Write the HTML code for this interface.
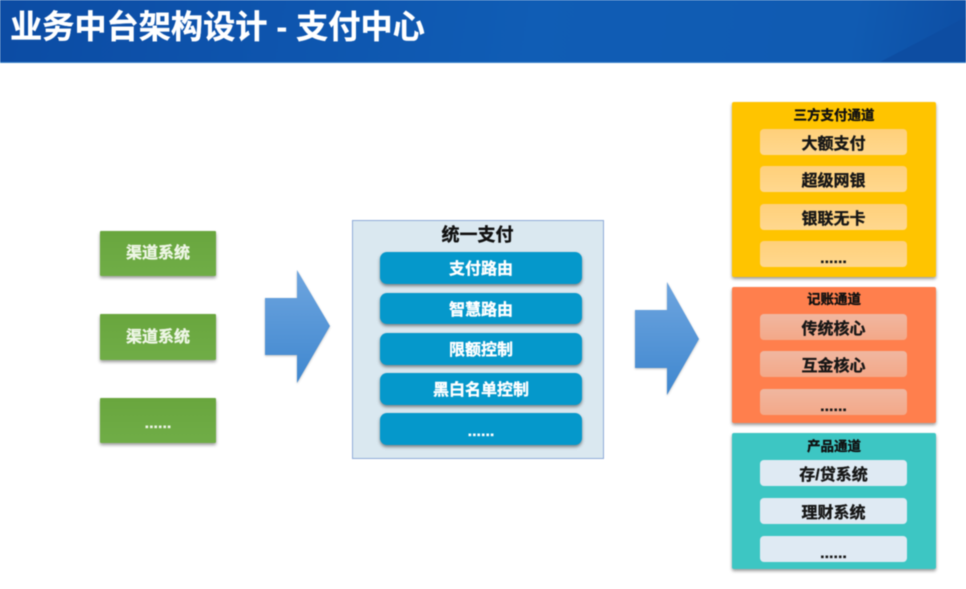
<!DOCTYPE html>
<html lang="zh"><head><meta charset="utf-8"><title>业务中台架构设计 - 支付中心</title>
<style>
html,body{margin:0;padding:0;background:#fff}
#p{position:relative;width:966px;height:589px;overflow:hidden;background:#fff;font-family:"Liberation Sans","Noto Sans CJK SC",sans-serif;font-weight:700;filter:blur(.45px);-webkit-text-stroke:.35px currentColor}
#p div{position:absolute;box-sizing:border-box;text-align:center;white-space:nowrap}
.g{left:100px;width:116px;height:45px;line-height:46px;font-size:16px;color:#eef6e6;background:linear-gradient(#69a63e,#70ad47);border-radius:1px;box-shadow:0 2px 3px rgba(0,0,0,.4)}
.b{left:380px;width:202px;height:32px;line-height:35px;font-size:16px;color:#fff;background:#0598cb;border-radius:7px;box-shadow:0 2px 3px rgba(0,0,0,.45)}
.o{left:732px;width:204px;border-radius:2px;box-shadow:0 2px 3px rgba(0,0,0,.4)}
.h{left:732px;width:204px;font-size:13.5px;line-height:19px;color:#111}
.i{left:760px;width:147px;height:26px;line-height:31px;font-size:16px;color:#161616;border-radius:4px}
.y{background:linear-gradient(#ffd07a,#ffd88f)}
.r{background:linear-gradient(#f0b7a0,#f4a888)}
.t{background:#dfeaf3}
.d{line-height:35px}
</style></head><body><div id="p">
<div style="left:0;top:0;width:966px;height:63px;background:linear-gradient(100deg,#0c4ca4 0%,#0e55ae 30%,#105db5 55%,#105bb2 88%,#0d4ea4 100%);border-bottom:1px solid #3f86cc"></div>
<svg style="position:absolute;left:0;top:0" width="966" height="62"><polygon points="880,62 966,17 966,62" fill="#0d4da2"/></svg>
<div style="left:10px;top:5px;height:44px;line-height:44px;font-size:32.2px;color:#fff;text-align:left">业务中台架构设计 - 支付中心</div>

<div class="g" style="top:231px">渠道系统</div>
<div class="g" style="top:314px;height:46px;line-height:48px">渠道系统</div>
<div class="g" style="top:398px;line-height:52px">......</div>

<svg style="position:absolute;left:0;top:0" width="966" height="589"><defs><linearGradient id="a" x1="0" y1="0" x2="0" y2="1"><stop offset="0" stop-color="#6ea5df"/><stop offset="1" stop-color="#3f87cf"/></linearGradient></defs>
<polygon points="265,298 297,298 297,270 330,326 297,383 297,355 265,355" fill="url(#a)" style="filter:drop-shadow(0 1px 1px rgba(0,0,0,.25))"/>
<polygon points="635,310 667,310 667,282 699,339 667,395 667,368 635,368" fill="url(#a)" style="filter:drop-shadow(0 1px 1px rgba(0,0,0,.25))"/></svg>

<div style="left:352px;top:220px;width:252px;height:239px;background:#dae8f0;border:1px solid #8fabd8"></div>
<div style="left:352px;top:223px;width:251px;height:24px;line-height:25px;font-size:18px;color:#111">统一支付</div>
<div class="b" style="top:252px">支付路由</div>
<div class="b" style="top:293px;height:31px">智慧路由</div>
<div class="b" style="top:333px">限额控制</div>
<div class="b" style="top:373px">黑白名单控制</div>
<div class="b" style="top:413px;line-height:38px">......</div>

<div class="o" style="top:102px;height:175px;background:#ffc400"></div>
<div class="h" style="top:106px">三方支付通道</div>
<div class="i y" style="top:129px">大额支付</div>
<div class="i y" style="top:166px">超级网银</div>
<div class="i y" style="top:204px">银联无卡</div>
<div class="i y d" style="top:241px">......</div>

<div class="o" style="top:287px;height:136px;background:#ff7f4d"></div>
<div class="h" style="top:290px">记账通道</div>
<div class="i r" style="top:314px">传统核心</div>
<div class="i r" style="top:351px;line-height:32px">互金核心</div>
<div class="i r d" style="top:389px">......</div>

<div class="o" style="top:433px;height:136px;background:#3dc6c3"></div>
<div class="h" style="top:437px">产品通道</div>
<div class="i t" style="top:460px">存/贷系统</div>
<div class="i t" style="top:498px">理财系统</div>
<div class="i t d" style="top:536px">......</div>
</div></body></html>
